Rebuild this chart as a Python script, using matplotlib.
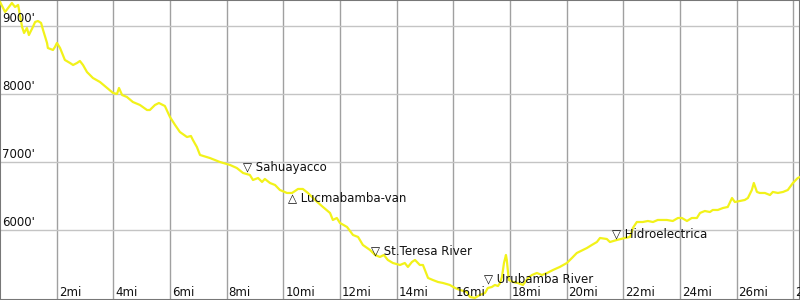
import matplotlib
matplotlib.use('Agg')
import matplotlib.pyplot as plt
import matplotlib.transforms as mtransforms

# elevation profile (miles, feet)
miles = [0.00, 0.18, 0.42, 0.53, 0.64, 0.78, 0.85, 0.95, 1.02, 1.16, 1.24, 1.34, 1.45, 1.52,
         1.66, 1.69, 1.87, 1.94, 2.01, 2.12, 2.29, 2.47, 2.58, 2.72, 2.82, 2.93, 3.07, 3.28,
         3.53, 3.78, 3.99, 4.13, 4.20, 4.31, 4.48, 4.69, 4.94, 5.19, 5.29, 5.47, 5.61, 5.82,
         6.00, 6.18, 6.35, 6.60, 6.74, 6.81, 6.95, 7.06, 7.41, 7.76, 8.12, 8.36, 8.58, 8.82,
         8.93, 9.11, 9.25, 9.35, 9.53, 9.71, 9.88, 10.13, 10.31, 10.52, 10.69, 10.87, 11.12,
         11.40, 11.65, 11.75, 11.89, 12.00, 12.25, 12.46, 12.64, 12.81, 13.06, 13.24, 13.41,
         13.55, 13.69, 13.87, 14.12, 14.29, 14.40, 14.54, 14.65, 14.82, 14.93, 15.11, 15.28,
         15.46, 15.64, 15.88, 16.06, 16.24, 16.48, 16.59, 16.76, 16.94, 17.12, 17.22, 17.36,
         17.47, 17.58, 17.65, 17.72, 17.79, 17.86, 17.89, 17.96, 18.11, 18.28, 18.46, 18.64,
         18.78, 18.95, 19.13, 19.31, 19.52, 19.76, 20.01, 20.19, 20.36, 20.58, 20.72, 20.89,
         21.07, 21.18, 21.42, 21.53, 21.78, 22.06, 22.24, 22.34, 22.48, 22.69, 22.87, 23.05,
         23.22, 23.54, 23.75, 23.93, 24.07, 24.25, 24.42, 24.60, 24.71, 24.88, 25.06, 25.16,
         25.34, 25.52, 25.69, 25.84, 25.94, 26.12, 26.29, 26.40, 26.54, 26.61, 26.72, 26.82,
         27.00, 27.18, 27.28, 27.46, 27.64, 27.81, 27.99, 28.16, 28.24]
elevation = [9353, 9206, 9338, 9279, 9309, 8985, 8897, 8970, 8867, 8985, 9059, 9073, 9044, 8941,
             8750, 8676, 8647, 8691, 8750, 8676, 8500, 8456, 8426, 8456, 8485, 8426, 8323, 8235,
             8176, 8088, 8015, 8000, 8088, 7985, 7956, 7882, 7838, 7764, 7764, 7838, 7867, 7823,
             7661, 7544, 7441, 7367, 7382, 7323, 7220, 7103, 7058, 7000, 6956, 6911, 6838, 6809,
             6735, 6764, 6706, 6750, 6691, 6661, 6588, 6544, 6544, 6603, 6603, 6544, 6441,
             6338, 6250, 6147, 6176, 6103, 6044, 5926, 5897, 5779, 5706, 5632, 5603,
             5632, 5559, 5514, 5485, 5514, 5456, 5529, 5559, 5485, 5485, 5294, 5264,
             5235, 5220, 5191, 5147, 5117, 5088, 5015, 5000, 5044, 5073, 5147, 5161,
             5191, 5176, 5220, 5309, 5514, 5632, 5559, 5264, 5235, 5220, 5191, 5294,
             5338, 5367, 5338, 5367, 5411, 5456, 5514, 5588, 5661, 5706, 5735, 5779,
             5823, 5882, 5867, 5823, 5853, 5882, 5897, 6029, 6117, 6117, 6132, 6117,
             6147, 6147, 6132, 6176, 6176, 6132, 6176, 6176, 6250, 6279, 6264, 6294,
             6294, 6323, 6338, 6470, 6411, 6426, 6441, 6470, 6588, 6691, 6559, 6544,
             6544, 6514, 6559, 6544, 6559, 6588, 6691, 6764, 6779]

# waypoints
wp_names = ['Sahuayacco', 'Lucmabamba-van', 'St.Teresa River', 'Urubamba River', 'Hidroelectrica']
wp_symbols = ['\u25bd', '\u25b3', '\u25bd', '\u25bd', '\u25bd']
wp_miles = [8.58, 10.16, 13.09, 17.08, 21.60]
wp_elev = [6912, 6470, 5691, 5280, 5941]

x_ticks = list(range(2, 30, 2))
y_ticks = [6000, 7000, 8000, 9000]

fig = plt.figure(figsize=(8, 3), dpi=100)
ax = fig.add_axes([0, 0, 1, 1])

ax.set_xlim(0, 28.24)
ax.set_ylim(4970, 9382)

for x in x_ticks:
    ax.axvline(x, color='#a0a0a0', lw=1.0, zorder=1)
for y in y_ticks:
    ax.axhline(y, color='#c4c4c4', lw=1.0, zorder=1)

ax.plot(miles, elevation, color='#f2f21a', lw=1.6, zorder=3)

for name, sym, mx, ey in zip(wp_names, wp_symbols, wp_miles, wp_elev):
    ax.text(mx, ey, sym + ' ' + name, fontsize=8.5, ha='left', va='center',
            color='#111111', zorder=4)

# tick labels drawn inside the frame
xtrans = mtransforms.blended_transform_factory(ax.transData, ax.transAxes)
for x in x_ticks:
    ax.text(x + 0.07, 0.004, f'{x}mi', transform=xtrans, fontsize=8.5, ha='left',
            va='bottom', color='#111111', zorder=4)
ytrans = mtransforms.blended_transform_factory(ax.transAxes, ax.transData)
for y in y_ticks:
    ax.text(0.003, y + 15, f"{y}'", transform=ytrans, fontsize=8.5, ha='left',
            va='bottom', color='#111111', zorder=4)

ax.set_xticks([])
ax.set_yticks([])
for s in ax.spines.values():
    s.set_color('#777777')
    s.set_linewidth(1.5)

fig.savefig('out.png', dpi=100)
